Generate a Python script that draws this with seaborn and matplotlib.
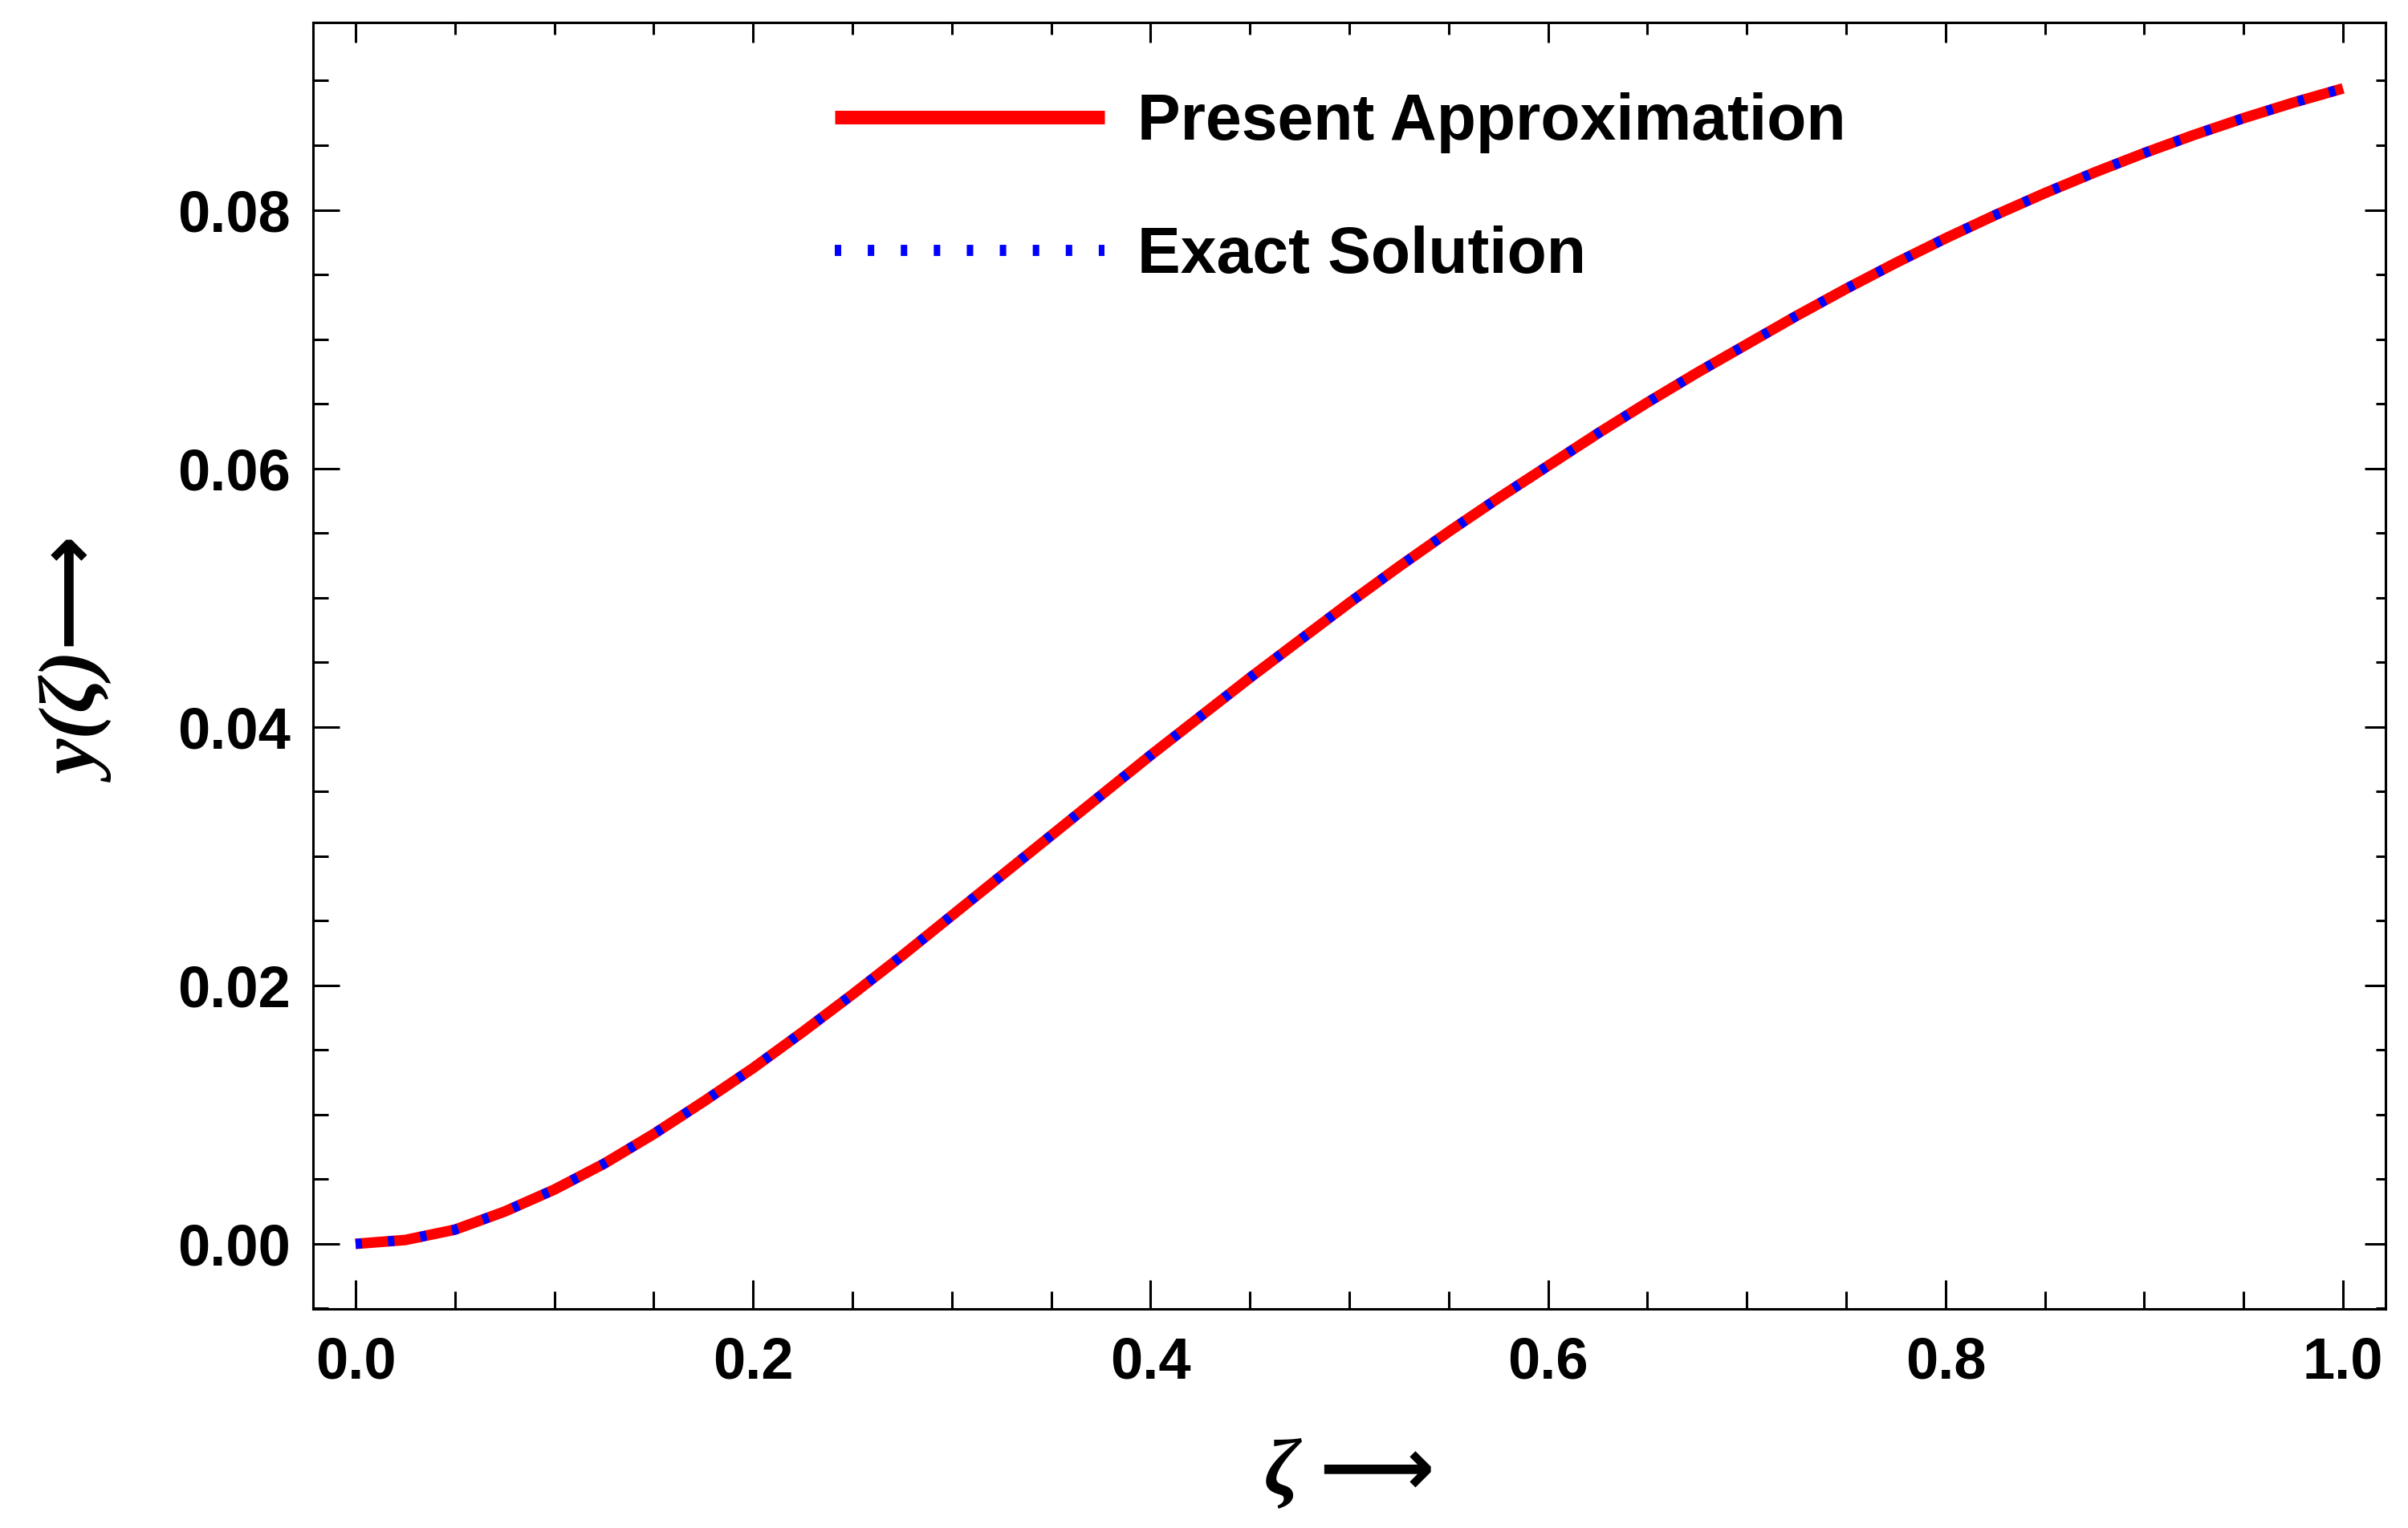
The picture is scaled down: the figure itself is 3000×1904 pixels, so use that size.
import numpy as np
import pandas as pd
import seaborn as sns
import matplotlib.pyplot as plt
from matplotlib.lines import Line2D
from matplotlib.ticker import MultipleLocator, FormatStrFormatter

# values
zeta = [0.000, 0.025, 0.050, 0.075, 0.100, 0.125, 0.150, 0.175, 0.200, 0.225,
        0.250, 0.275, 0.300, 0.325, 0.350, 0.375, 0.400, 0.425, 0.450, 0.475,
        0.500, 0.525, 0.550, 0.575, 0.600, 0.625, 0.650, 0.675, 0.700, 0.725,
        0.750, 0.775, 0.800, 0.825, 0.850, 0.875, 0.900, 0.925, 0.950, 0.975,
        1.000]
present = [0.0000, 0.0003, 0.0011, 0.0025, 0.0042, 0.0062, 0.0085, 0.0110, 0.0136, 0.0164,
           0.0193, 0.0223, 0.0254, 0.0285, 0.0316, 0.0347, 0.0378, 0.0408, 0.0438, 0.0467,
           0.0496, 0.0524, 0.0551, 0.0577, 0.0602, 0.0627, 0.0651, 0.0674, 0.0696, 0.0718,
           0.0739, 0.0759, 0.0778, 0.0796, 0.0813, 0.0829, 0.0844, 0.0858, 0.0871, 0.0883,
           0.0894]
exact = [0.0000, 0.0003, 0.0011, 0.0025, 0.0042, 0.0062, 0.0085, 0.0110, 0.0136, 0.0164,
         0.0193, 0.0223, 0.0254, 0.0285, 0.0316, 0.0347, 0.0378, 0.0408, 0.0438, 0.0467,
         0.0496, 0.0524, 0.0551, 0.0577, 0.0602, 0.0627, 0.0651, 0.0674, 0.0696, 0.0718,
         0.0739, 0.0759, 0.0778, 0.0796, 0.0813, 0.0829, 0.0844, 0.0858, 0.0871, 0.0883,
         0.0894]
labels = ['Present Approximation', 'Exact Solution']

df = pd.DataFrame({'zeta': zeta, 'present': present, 'exact': exact})

sns.set_theme(style='ticks')
plt.rcParams['font.family'] = ['Liberation Sans', 'DejaVu Sans']
plt.rcParams['axes.linewidth'] = 2.2
plt.rcParams['axes.edgecolor'] = 'black'
plt.rcParams['text.color'] = 'black'
plt.rcParams['axes.labelcolor'] = 'black'
plt.rcParams['xtick.color'] = 'black'
plt.rcParams['ytick.color'] = 'black'

fig = plt.figure(figsize=(30, 19.04), dpi=100)
ax = fig.add_axes([0.13, 0.1434, 0.8607, 0.8419])

sns.lineplot(data=df, x='zeta', y='present', color='#ff0000', lw=9.5,
             solid_capstyle='butt', ax=ax)
sns.lineplot(data=df, x='zeta', y='exact', color='#0000ff', lw=9,
             linestyle=(0, (0.64, 2.6)), ax=ax)

ax.set_xlim(-0.0214, 1.0214)
ax.set_ylim(-0.00503, 0.0945)

ax.xaxis.set_major_locator(MultipleLocator(0.2))
ax.xaxis.set_minor_locator(MultipleLocator(0.05))
ax.yaxis.set_major_locator(MultipleLocator(0.02))
ax.yaxis.set_minor_locator(MultipleLocator(0.005))
ax.xaxis.set_major_formatter(FormatStrFormatter('%.1f'))
ax.yaxis.set_major_formatter(FormatStrFormatter('%.2f'))

ax.tick_params(which='both', direction='in', width=2.2, color='black',
               labelcolor='black', labelsize=52)
ax.tick_params(axis='x', which='major', length=26, pad=24)
ax.tick_params(axis='x', which='minor', length=16)
ax.tick_params(axis='y', which='major', length=24, pad=20)
ax.tick_params(axis='y', which='minor', length=14)
for lab in ax.get_xticklabels() + ax.get_yticklabels():
    lab.set_fontweight('bold')

# frame ticks on top and right, shorter, no labels
top = ax.secondary_xaxis('top')
top.xaxis.set_major_locator(MultipleLocator(0.2))
top.xaxis.set_minor_locator(MultipleLocator(0.05))
top.tick_params(which='both', direction='in', width=2.2, color='black', labeltop=False)
top.tick_params(which='major', length=18)
top.tick_params(which='minor', length=11)
right = ax.secondary_yaxis('right')
right.yaxis.set_major_locator(MultipleLocator(0.02))
right.yaxis.set_minor_locator(MultipleLocator(0.005))
right.tick_params(which='both', direction='in', width=2.2, color='black', labelright=False)
right.tick_params(which='major', length=19)
right.tick_params(which='minor', length=9)

serif = ['Liberation Serif', 'DejaVu Sans']
ax.set_xlabel('ζ ⟶', fontsize=72, family=serif, style='italic', weight='bold',
              color='black')
ax.set_ylabel('y(ζ)⟶', fontsize=72, family=serif, style='italic', weight='bold',
              color='black')
ax.xaxis.label.set_va('center')
ax.yaxis.label.set_va('center')
ax.xaxis.set_label_coords(0.5, -0.1287)
ax.yaxis.set_label_coords(-0.111, 0.502)

handles = [Line2D([], [], color='#ff0000', lw=12.2, solid_capstyle='butt'),
           Line2D([], [], color='#0000ff', lw=10, linestyle=(0, (0.58, 2.38)))]
leg = ax.legend(handles, labels, loc='upper left', bbox_to_anchor=(0.3467, 0.9396),
                bbox_transform=fig.transFigure, frameon=False, borderpad=0,
                borderaxespad=0, handlelength=4.17, handletextpad=0.51,
                labelspacing=1.12,
                prop={'family': 'Liberation Sans', 'weight': 'bold', 'size': 58})
for t in leg.get_texts():
    t.set_color('black')

fig.savefig('out.png', dpi=100)
